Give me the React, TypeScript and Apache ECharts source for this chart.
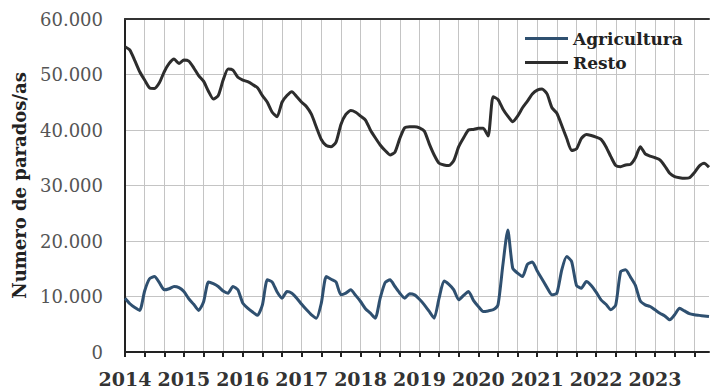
import React, { useEffect, useRef } from "react";
import * as echarts from "echarts";

const years = ["2014", "2015", "2016", "2017", "2018", "2019", "2020", "2021", "2022", "2023"];
const months = years.flatMap((y) =>
  ["01", "02", "03", "04", "05", "06", "07", "08", "09", "10", "11", "12"].map((m) => `${y}-${m}`)
);

const agricultura = [
  9700, 8700, 8000, 7500, 11000, 13200, 13600, 12500, 11200, 11400, 11800, 11600,
  10900, 9600, 8600, 7500, 9000, 12600, 12300, 11800, 11000, 10600, 11800, 11200,
  8800, 7900, 7200, 6600, 8500, 13000, 12600, 10800, 9700, 10900, 10600, 9700,
  8600, 7600, 6700, 6100, 8800, 13600, 13100, 12600, 10300, 10600, 11200, 10200,
  9100, 7800, 7000, 6100, 9700, 12500, 13000, 11800, 10600, 9700, 10500, 10300,
  9500, 8500, 7300, 6100, 9700, 12800, 12200, 11200, 9400, 10200, 10900, 9300,
  8200, 7300, 7400, 7600, 8500, 15700, 22000, 15100, 14200, 13600, 15800, 16200,
  14600, 13100, 11600, 10300, 10600, 14800, 17200, 16300, 12000, 11500, 12700, 12000,
  10800, 9400, 8600, 7600, 8500, 14500, 14800, 13500, 12000, 9200, 8500, 8200,
  7600, 7000, 6500, 5800, 6700, 7900, 7400, 6900, 6700, 6600, 6500, 6400,
];

const resto = [
  55000, 54400, 52500, 50500, 49000, 47600, 47500, 48500, 50500, 52000, 52800, 52000,
  52600, 52400, 51200, 49800, 48800, 47000, 45600, 46200, 49000, 51000, 50800, 49500,
  49000, 48700, 48200, 47600, 46200, 45000, 43200, 42400, 45000, 46200, 46900, 46000,
  45000, 44200, 42800, 40500, 38300, 37200, 37000, 37800, 41000, 42800, 43500, 43200,
  42500, 41800, 40000, 38600, 37300, 36300, 35500, 36000, 38500, 40400, 40600, 40600,
  40400, 39800, 37500, 35500, 34000, 33700, 33600, 34500, 37000, 38600, 40000, 40100,
  40300, 40300, 38900, 46000, 45500, 43800, 42500, 41500, 42500, 44000, 45200, 46500,
  47200, 47400, 46500, 44000, 43000, 40800, 38500, 36300, 36600, 38500, 39200, 39000,
  38700, 38300, 37000, 35200, 33600, 33400, 33700, 33800, 35000, 37000, 35700, 35300,
  35000, 34600, 33500, 32200, 31600, 31400, 31300, 31400, 32300, 33500, 34000, 33300,
];

const yMin = 0;
const yMax = 60000;
const yStep = 10000;

const fmtThousands = (v: number) => String(Math.round(v)).replace(/\B(?=(\d{3})+(?!\d))/g, ".");

export default function App() {
  const ref = useRef<HTMLDivElement>(null);
  useEffect(() => {
    if (!ref.current) return;
    const chart = echarts.init(ref.current, null, { renderer: "svg" });
    const serif = "DejaVu Serif";
    chart.setOption({
      animation: false,
      backgroundColor: "#ffffff",
      grid: { left: 125, top: 19, right: 1, bottom: 37, containLabel: false, outerBoundsMode: "none" },
      legend: {
        orient: "vertical",
        left: 520,
        top: 24,
        itemWidth: 43,
        itemHeight: 3,
        itemGap: 5,
        icon: "rect",
        textStyle: { fontFamily: serif, fontWeight: "bold", fontSize: 17, color: "#222", lineHeight: 19 },
        data: ["Agricultura", "Resto"],
      },
      xAxis: [
        {
          type: "category",
          data: months,
          boundaryGap: false,
          axisLine: { show: true, lineStyle: { color: "#222", width: 2 } },
          axisTick: {
            show: true,
            length: 5,
            interval: (i: number) => i % 4 === 0,
            lineStyle: { color: "#222", width: 2 },
          },
          axisLabel: {
            interval: (i: number) => i % 12 === 0,
            formatter: (v: string) => v.slice(0, 4),
            fontFamily: serif,
            fontWeight: "bold",
            fontSize: 19,
            color: "#333",
            margin: 17,
          },
          splitLine: {
            show: true,
            interval: (i: number) => i % 4 === 0,
            lineStyle: { color: "#c4c4c4", width: 1 },
          },
        },
        {
          type: "category",
          position: "top",
          data: months,
          boundaryGap: false,
          axisLine: { show: true, lineStyle: { color: "#333", width: 2 } },
          axisTick: { show: false },
          axisLabel: { show: false },
          splitLine: { show: false },
        },
      ],
      yAxis: {
        type: "value",
        min: yMin,
        max: yMax,
        interval: yStep,
        name: "Numero de parados/as",
        nameLocation: "middle",
        nameGap: 97,
        nameTextStyle: { fontFamily: serif, fontWeight: "bold", fontSize: 18, color: "#222" },
        axisLine: { show: true, lineStyle: { color: "#222", width: 2 } },
        axisTick: { show: false },
        axisLabel: {
          formatter: (v: number) => fmtThousands(v),
          fontFamily: serif,
          fontSize: 18,
          color: "#555",
          margin: 22,
        },
        splitLine: { show: true, lineStyle: { color: "#c4c4c4", width: 1 } },
      },
      series: [
        {
          name: "Agricultura",
          type: "line",
          data: agricultura,
          showSymbol: false,
          symbol: "none",
          smooth: 0.2,
          lineStyle: { color: "#2f5070", width: 3 },
          itemStyle: { color: "#2f5070" },
        },
        {
          name: "Resto",
          type: "line",
          data: resto,
          showSymbol: false,
          symbol: "none",
          smooth: 0.2,
          lineStyle: { color: "#2d2d2d", width: 3 },
          itemStyle: { color: "#2d2d2d" },
        },
      ],
    });
    return () => chart.dispose();
  }, []);
  return (
    <div
      ref={ref}
      style={{ position: "fixed", left: 0, top: 0, width: 710, height: 389, background: "#fff" }}
    />
  );
}
